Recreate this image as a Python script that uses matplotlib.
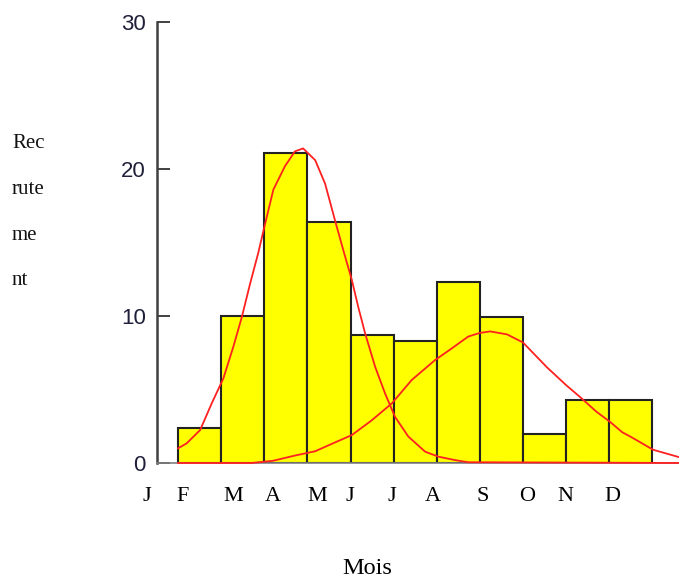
import matplotlib
matplotlib.use("Agg")
import matplotlib.pyplot as plt
import matplotlib.transforms as mtransforms

# ---- data ----
months = ["J", "F", "M", "A", "M", "J", "J", "A", "S", "O", "N", "D"]
bar_months = [1, 2, 3, 4, 5, 6, 7, 8, 9, 10, 11]          # F .. D (month index)
recrutement = [2.4, 10.0, 21.1, 16.4, 8.7, 8.3, 12.3, 9.9, 2.0, 4.3, 4.3]

curve1_x = [1.0, 1.2, 1.51, 1.78, 2.05, 2.28, 2.48, 2.67, 2.86, 3.02, 3.21, 3.48,
            3.71, 3.9, 4.18, 4.41, 4.64, 4.83, 5.03, 5.18, 5.34, 5.57, 5.8, 6.03,
            6.34, 6.73, 7.04, 7.42, 7.73, 12.62]
curve1_y = [1.0, 1.34, 2.24, 4.06, 5.76, 7.9, 9.95, 12.2, 14.3, 16.3, 18.6, 20.2,
            21.2, 21.4, 20.6, 19.0, 16.5, 14.5, 12.45, 10.6, 8.8, 6.55, 4.74, 3.15,
            1.8, 0.77, 0.43, 0.2, 0.05, 0.0]

curve2_x = [1.0, 2.7, 3.2, 3.7, 4.18, 4.64, 5.03, 5.49, 5.96, 6.42, 6.96, 7.35,
            7.73, 8.0, 8.24, 8.63, 9.0, 9.23, 9.56, 10.0, 10.32, 10.7, 11.02, 11.3,
            11.55, 12.02, 12.62]
curve2_y = [0.0, 0.0, 0.15, 0.5, 0.8, 1.4, 1.9, 2.9, 4.06, 5.65, 7.0, 7.8,
            8.6, 8.85, 8.95, 8.75, 8.2, 7.5, 6.5, 5.3, 4.5, 3.5, 2.8, 2.1,
            1.7, 0.9, 0.4]

yticks = [0, 10, 20, 30]

# layout: x positions of month labels (as drawn in the original)
month_label_pos = [0.28, 1.11, 2.27, 3.20, 4.22, 4.99, 5.97, 6.91, 8.07, 9.09, 9.98, 11.07]

# ---- figure ----
fig = plt.figure(figsize=(6.79, 5.80), dpi=100)
ax = fig.add_axes([157/679, (580-463)/580, 1 - 157/679, (463-22)/580])

ax.bar(bar_months, recrutement, width=1.0, align="edge",
       color="#ffff00", edgecolor="#222222", linewidth=1.5, zorder=2)

ax.plot(curve2_x, curve2_y, color="#ff2020", linewidth=1.3, zorder=3, clip_on=False)
ax.plot(curve1_x, curve1_y, color="#ff2020", linewidth=1.3, zorder=3, clip_on=False)

ax.set_xlim(0.51, 12.62)
ax.set_ylim(0, 30)

for s in ["top", "right"]:
    ax.spines[s].set_visible(False)
ax.spines["left"].set_color("#404040")
ax.spines["left"].set_linewidth(1.8)
ax.spines["bottom"].set_color("#808080")
ax.spines["bottom"].set_linewidth(1.2)

ax.set_yticks(yticks)
ax.set_yticklabels([str(v) for v in yticks])
ax.tick_params(axis="y", direction="in", length=9.5, width=1.4, color="#404040",
               pad=8, labelsize=16, labelcolor="#1f1f3a")
for lab in ax.get_yticklabels():
    lab.set_fontfamily("Liberation Sans")
ax.set_xticks([])

trans = mtransforms.blended_transform_factory(ax.transData, ax.transAxes)
for m, xp in zip(months, month_label_pos):
    ax.text(xp, -0.077, m, transform=trans, ha="center", va="center",
            fontsize=16, family="Liberation Serif", color="#000000", clip_on=False)

fig.text(367/679, 1 - 568/580, "Mois", ha="center", va="center",
         fontsize=17.5, family="Liberation Serif", color="#000000")

for part, yp in zip(["Rec", "rute", "me", "nt"], [143, 190, 235, 280]):
    fig.text(12/679, 1 - yp/580, part, ha="left", va="center",
             fontsize=15, family="Liberation Serif", color="#111111")

fig.savefig("out.png", dpi=100)
